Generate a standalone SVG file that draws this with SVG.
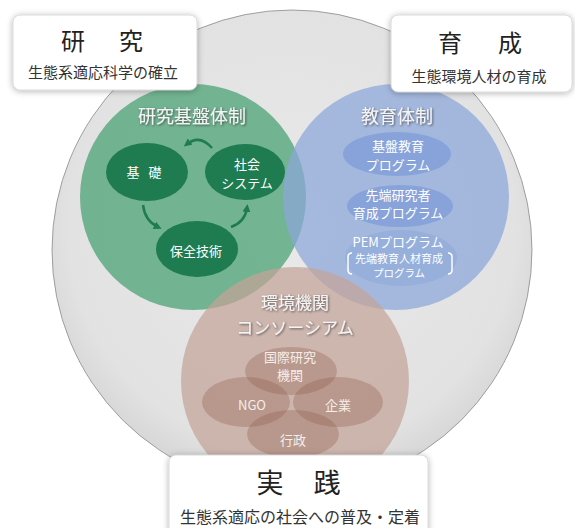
<svg xmlns="http://www.w3.org/2000/svg" width="575" height="528" viewBox="0 0 575 528">
<style>
.jp{font-family:"Noto Sans CJK JP","Noto Sans",sans-serif}
.box{fill:#ffffff;stroke:#d0d0d0;stroke-width:0.8}
.ttl{font-size:24px;fill:#222;text-anchor:middle}
.sub{font-size:15px;fill:#333;text-anchor:middle}
.sec{font-size:18px;fill:#f4f4f4;text-anchor:middle}
.in{font-size:13px;fill:#ffffff;text-anchor:middle}
.gin{fill:#1f7c50}
.bin{fill:#7f9ed8;opacity:0.8}
.rin{fill:#8a5646;opacity:0.3}
.rt{font-size:13px;fill:#f6eeea;text-anchor:middle}
.arr{fill:none;stroke:#1f7c50;stroke-width:2.5}
</style>
<defs>
<radialGradient id="gbg" cx="50%" cy="45%" r="55%">
<stop offset="0" stop-color="#e9e9e9"/>
<stop offset="0.85" stop-color="#e2e2e2"/>
<stop offset="1" stop-color="#d6d6d6"/>
</radialGradient>
<filter id="sh" x="-20%" y="-30%" width="140%" height="160%">
<feDropShadow dx="0" dy="1" stdDeviation="3" flood-color="#000" flood-opacity="0.3"/>
</filter>
<filter id="ts" x="-10%" y="-30%" width="120%" height="160%">
<feDropShadow dx="1" dy="1" stdDeviation="0.8" flood-color="#333" flood-opacity="0.75"/>
</filter>
<marker id="ah" viewBox="0 0 10 10" refX="5" refY="5" markerWidth="3.2" markerHeight="3.2" orient="auto">
<path d="M0,0 L10,5 L0,10 z" fill="#1f7c50"/>
</marker>
</defs>
<rect width="575" height="528" fill="#ffffff"/>

<g id="outer">
<circle cx="292" cy="250" r="240" fill="url(#gbg)" stroke="#8a8a8a" stroke-width="0.8"/>
</g>

<g id="research-circle">
<circle cx="193" cy="197" r="113" fill="#45a070" opacity="0.72"/>
</g>
<g id="education-circle">
<circle cx="396" cy="197" r="113" fill="#8ba6d9" opacity="0.72"/>
</g>
<g id="consortium-circle">
<circle cx="295" cy="381" r="114" fill="#c4a499" opacity="0.72"/>
</g>

<g id="research-title" class="jp"><text class="sec" x="192" y="123" filter="url(#ts)">研究基盤体制</text></g>
<g id="education-title" class="jp"><text class="sec" x="397" y="123" filter="url(#ts)">教育体制</text></g>
<g id="consortium-title" class="jp">
<text class="sec" x="295" y="309" style="font-size:17px" filter="url(#ts)">環境機関</text>
<text class="sec" x="295" y="334" style="font-size:17px" filter="url(#ts)">コンソーシアム</text>
</g>

<g id="kiso" class="jp">
<ellipse class="gin" cx="147" cy="172" rx="41" ry="29"/>
<text class="in" x="133" y="177">基</text>
<text class="in" x="155" y="177">礎</text>
</g>
<g id="shakai" class="jp">
<ellipse class="gin" cx="245" cy="172" rx="40" ry="28"/>
<text class="in" x="247" y="169">社会</text>
<text class="in" x="247" y="188">システム</text>
</g>
<g id="hozen" class="jp">
<ellipse class="gin" cx="197" cy="249" rx="41" ry="28"/>
<text class="in" x="196" y="256">保全技術</text>
</g>

<g id="connectors">
<path class="arr" d="M212,148 Q200,134 187,144" marker-end="url(#ah)"/>
<path class="arr" d="M143,205 Q145,221 158,227" marker-end="url(#ah)"/>
<path class="arr" d="M231,227 Q245,222 247,208" marker-end="url(#ah)"/>
</g>

<g id="kiban-edu" class="jp">
<ellipse class="bin" cx="397" cy="154" rx="54" ry="22"/>
<text class="in" x="398" y="151">基盤教育</text>
<text class="in" x="398" y="170">プログラム</text>
</g>
<g id="sentan" class="jp">
<ellipse class="bin" cx="400" cy="206" rx="53" ry="21"/>
<text class="in" x="398" y="200">先端研究者</text>
<text class="in" x="398" y="218">育成プログラム</text>
</g>
<g id="pem" class="jp">
<ellipse cx="401" cy="258" rx="56" ry="28" fill="#7f9ed8" opacity="0.35"/>
<text class="in" x="398" y="247">PEMプログラム</text>
<text class="in" x="399" y="263" style="font-size:11px">先端教育人材育成</text>
<text class="in" x="399" y="277" style="font-size:10.5px">プログラム</text>
<path d="M352,253 Q348,253 348,257 L348,270 Q348,274 352,274" fill="none" stroke="#ffffff" stroke-width="1.5"/>
<path d="M448,253 Q452,253 452,257 L452,270 Q452,274 448,274" fill="none" stroke="#ffffff" stroke-width="1.5"/>
</g>

<g id="kokusai" class="jp">
<ellipse class="rin" cx="291" cy="371" rx="46" ry="24"/>
<text class="rt" x="290" y="362">国際研究</text>
<text class="rt" x="290" y="380">機関</text>
</g>
<g id="ngo" class="jp">
<ellipse class="rin" cx="246" cy="402" rx="44" ry="25"/>
<text class="rt" x="252" y="410">NGO</text>
</g>
<g id="kigyo" class="jp">
<ellipse class="rin" cx="338" cy="402" rx="45" ry="25"/>
<text class="rt" x="338" y="410">企業</text>
</g>
<g id="gyosei" class="jp">
<ellipse class="rin" cx="293" cy="434" rx="46" ry="24"/>
<text class="rt" x="293" y="445">行政</text>
</g>

<g id="box-research" class="jp">
<rect class="box" x="13" y="15" width="184" height="75" rx="7" filter="url(#sh)"/>
<text class="ttl" x="73" y="50">研</text>
<text class="ttl" x="131" y="50">究</text>
<text class="sub" x="103" y="78">生態系適応科学の確立</text>
</g>
<g id="box-education" class="jp">
<rect class="box" x="391" y="15" width="181" height="77" rx="7" filter="url(#sh)"/>
<text class="ttl" x="450" y="52">育</text>
<text class="ttl" x="510" y="52">成</text>
<text class="sub" x="479" y="82">生態環境人材の育成</text>
</g>
<g id="box-practice" class="jp">
<rect class="box" x="169" y="455" width="259" height="85" rx="7" filter="url(#sh)"/>
<text class="ttl" x="270" y="493" style="font-size:27px">実</text>
<text class="ttl" x="327" y="493" style="font-size:27px">践</text>
<text class="sub" x="300" y="523" style="font-size:16px">生態系適応の社会への普及・定着</text>
</g>
</svg>
